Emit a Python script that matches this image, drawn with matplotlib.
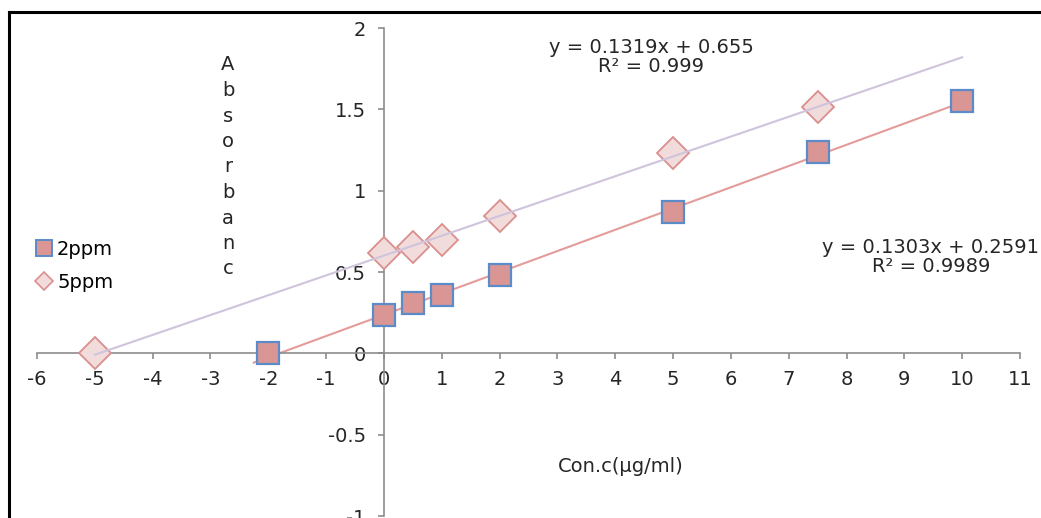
import numpy as np
import matplotlib
matplotlib.use("Agg")
import matplotlib.pyplot as plt
from matplotlib.lines import Line2D

plt.rcParams['font.family'] = ['DejaVu Sans']

# ---- data ----
x_2ppm = [-2, 0, 0.5, 1, 2, 5, 7.5, 10]
y_2ppm = [0.0, 0.234, 0.307, 0.357, 0.48, 0.867, 1.236, 1.55]
x_5ppm = [-5, 0, 0.5, 1, 2, 5, 7.5]
y_5ppm = [0.0, 0.615, 0.652, 0.695, 0.843, 1.23, 1.513]
trend_range_2ppm = [-2.25, 10]
trend_range_5ppm = [-5, 10]
series_labels = ["2ppm", "5ppm"]
eq_5ppm = "y = 0.1319x + 0.655\nR² = 0.999"
eq_2ppm = "y = 0.1303x + 0.2591\nR² = 0.9989"
x_ticks = list(range(-6, 12))
y_ticks = [-1, -0.5, 0, 0.5, 1, 1.5, 2]
y_tick_labels = ["-1", "-0.5", "0", "0.5", "1", "1.5", "2"]
x_label = "Con.c(μg/ml)"
y_label = "Absorbanc"

W, H = 1041, 518
fig = plt.figure(figsize=(W / 100, H / 100), dpi=100)
ax = fig.add_axes([37 / W, 2 / H, (1020 - 37) / W, (516 - 28) / H])
ax.set_xlim(-6, 11)
ax.set_ylim(-1, 2)

axis_col = '#8C8C8C'
for s in ['top', 'right']:
    ax.spines[s].set_visible(False)
ax.spines['left'].set_position(('data', 0))
ax.spines['bottom'].set_position(('data', 0))
for s in ['left', 'bottom']:
    ax.spines[s].set_color(axis_col)
    ax.spines[s].set_linewidth(1.2)

ax.set_xticks(x_ticks)
ax.set_xticklabels([str(t) for t in x_ticks])
ax.set_yticks(y_ticks)
ax.set_yticklabels(y_tick_labels)
ax.tick_params(axis='both', direction='out', length=4, width=1.2, color=axis_col,
               labelsize=14, labelcolor='#262626')
ax.tick_params(axis='x', pad=8)
ax.tick_params(axis='y', pad=9)

sq_face, sq_edge = '#D99694', '#5B8BC9'
dm_face, dm_edge = '#F2DCDB', '#D98F8D'
line_2 = '#E39C9A'
line_5 = '#CFC4DC'

# trendlines (least squares through the data)
p2 = np.polyfit(x_2ppm, y_2ppm, 1)
p5 = np.polyfit(x_5ppm, y_5ppm, 1)
tx2 = np.array(trend_range_2ppm)
tx5 = np.array(trend_range_5ppm)
ax.plot(tx2, np.polyval(p2, tx2), color=line_2, lw=1.5, zorder=2)
ax.plot(x_5ppm, y_5ppm, linestyle='none', marker='D', markersize=16,
        markerfacecolor=dm_face, markeredgecolor=dm_edge, markeredgewidth=1.3,
        zorder=3, clip_on=False)
ax.plot(tx5, np.polyval(p5, tx5), color=line_5, lw=1.5, zorder=4)
ax.plot(x_2ppm, y_2ppm, linestyle='none', marker='s', markersize=16,
        markerfacecolor=sq_face, markeredgecolor=sq_edge, markeredgewidth=1.6,
        zorder=5, clip_on=False)

def ftxt(x, y, s, **kw):
    fig.text(x / W, 1 - y / H, s, **kw)

ftxt(651, 57, eq_5ppm, ha='center', va='center', fontsize=14, color='#262626',
     linespacing=1.0)
ftxt(931, 257, eq_2ppm, ha='center', va='center', fontsize=14, color='#262626',
     linespacing=1.0)
ftxt(621, 467, x_label, ha='center', va='center', fontsize=14, color='#262626')
for i, ch in enumerate(y_label):
    ftxt(228, 65 + i * 25.5, ch, ha='center', va='center', fontsize=14, color='#262626')

handles = [
    Line2D([], [], linestyle='none', marker='s', markersize=12,
           markerfacecolor=sq_face, markeredgecolor=sq_edge, markeredgewidth=1.4),
    Line2D([], [], linestyle='none', marker='D', markersize=9,
           markerfacecolor=dm_face, markeredgecolor=dm_edge, markeredgewidth=1.2),
]
fig.legend(handles, series_labels, loc='center left',
           bbox_to_anchor=(25 / W, 1 - 266 / H), frameon=False, fontsize=14,
           handlelength=1.0, handletextpad=0.15, labelspacing=0.72, borderpad=0)

# outer frame (left and top)
fig.add_artist(Line2D([9 / W, 9 / W], [0, 1 - 12 / H], transform=fig.transFigure,
                      color='black', lw=2.2, solid_capstyle='projecting'))
fig.add_artist(Line2D([9 / W, 1], [1 - 12 / H, 1 - 12 / H], transform=fig.transFigure,
                      color='black', lw=2.2, solid_capstyle='projecting'))

fig.savefig('out.png', dpi=100, facecolor='white')
